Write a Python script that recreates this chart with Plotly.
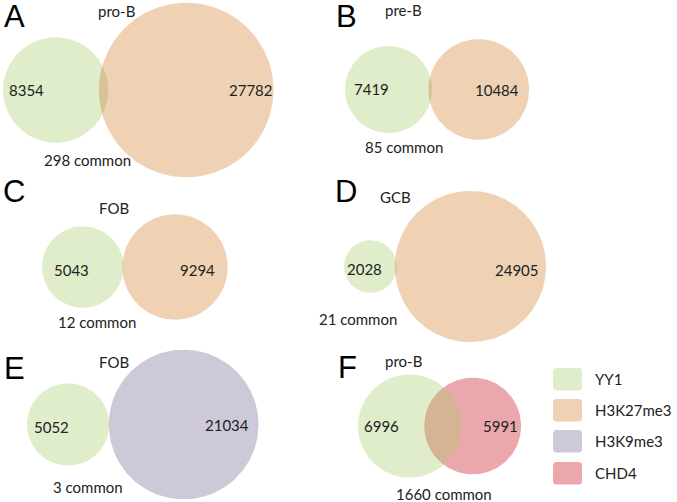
import math
import plotly.graph_objects as go

# ---------------- data ----------------
panels = ["A", "B", "C", "D", "E", "F"]
cell_types = ["pro-B", "pre-B", "FOB", "GCB", "FOB", "pro-B"]
yy1_counts = [8354, 7419, 5043, 2028, 5052, 6996]
partner_counts = [27782, 10484, 9294, 24905, 21034, 5991]
partner_marks = ["H3K27me3", "H3K27me3", "H3K27me3", "H3K27me3", "H3K9me3", "CHD4"]
common_counts = [298, 85, 12, 21, 3, 1660]
legend_labels = ["YY1", "H3K27me3", "H3K9me3", "CHD4"]

# ---------------- styles / layout ----------------
W, H = 677, 502
colors = {"YY1": "#e0edcb", "H3K27me3": "#efd2b4", "H3K9me3": "#cdc9d8", "CHD4": "#eaa8ac"}
lens_colors = ["#d6c496", "#d6c496", "#d6c496", "#d6c496", "#cfcdbb", "#d4b493"]
EXP = 0.42
panel_left = [3, 345, 42, 344, 27, 358]
panel_cy = [90, 89.5, 267, 266.5, 424.5, 426]
panel_rsum = [140, 94, 93.5, 102, 116, 100]
letter_pos = [(14.5, 16), (346, 16), (14, 191), (346, 191), (14, 368), (347, 367)]
title_pos = [(116, 11), (403, 10), (114, 208), (395, 197), (114, 362), (403, 361)]
num1_pos = [(26, 90), (371, 89), (71, 270), (364, 269), (51, 427), (381, 426)]
num2_pos = [(251, 90), (497, 90), (197, 270), (517, 270), (227, 425), (500, 426)]
common_pos = [(87, 160), (404, 147), (97, 322), (358, 319), (88, 487), (444, 494)]
legend_x0, legend_x1 = 553, 582
legend_y0 = [368, 399, 430, 462]
legend_h = 22.5
TXT = "#222222"
FONT = "Lato"


def circle_pts(cx, cy, r, n=240):
    xs = [cx + r * math.cos(2 * math.pi * i / n) for i in range(n + 1)]
    ys = [cy + r * math.sin(2 * math.pi * i / n) for i in range(n + 1)]
    return xs, ys


def lens_area(r1, r2, d):
    a = (d * d + r1 * r1 - r2 * r2) / (2 * d)
    h = math.sqrt(max(r1 * r1 - a * a, 0))
    b = d - a
    return (r1 * r1 * math.acos(max(-1, min(1, a / r1))) - a * h
            + r2 * r2 * math.acos(max(-1, min(1, b / r2))) - b * h)


def solve_distance(r1, r2, target):
    lo, hi = abs(r1 - r2) + 1e-6, r1 + r2 - 1e-9
    for _ in range(100):
        mid = (lo + hi) / 2
        if lens_area(r1, r2, mid) > target:
            lo = mid
        else:
            hi = mid
    return (lo + hi) / 2


def lens_pts(x1, x2, cy, r1, r2, n=80):
    d = x2 - x1
    a = (d * d + r1 * r1 - r2 * r2) / (2 * d)
    h = math.sqrt(max(r1 * r1 - a * a, 0))
    t1 = math.atan2(h, a)
    t2 = math.atan2(h, d - a)
    xs, ys = [], []
    for i in range(n + 1):
        t = -t1 + 2 * t1 * i / n
        xs.append(x1 + r1 * math.cos(t))
        ys.append(cy + r1 * math.sin(t))
    for i in range(n + 1):
        t = math.pi - t2 + 2 * t2 * i / n
        xs.append(x2 + r2 * math.cos(t))
        ys.append(cy + r2 * math.sin(t))
    xs.append(xs[0])
    ys.append(ys[0])
    return xs, ys


fig = go.Figure()
annotations = []


def ann(pos, text, size=15, family=FONT, color=TXT):
    annotations.append(dict(x=pos[0], y=pos[1], xref="x", yref="y", text=text,
                            showarrow=False, xanchor="center", yanchor="middle",
                            font=dict(family=family, size=size, color=color)))


for i in range(len(panels)):
    n1, n2, nc = yy1_counts[i], partner_counts[i], common_counts[i]
    s = panel_rsum[i] / (n1 ** EXP + n2 ** EXP)
    r1, r2 = s * n1 ** EXP, s * n2 ** EXP
    cx1 = panel_left[i] + r1
    cy = panel_cy[i]
    d = solve_distance(r1, r2, nc / n1 * math.pi * r1 * r1)
    cx2 = cx1 + d

    for (cx, r, name) in [(cx1, r1, "YY1"), (cx2, r2, partner_marks[i])]:
        xs, ys = circle_pts(cx, cy, r)
        fig.add_trace(go.Scatter(x=xs, y=ys, mode="lines", fill="toself",
                                 fillcolor=colors[name], line=dict(width=0),
                                 hoverinfo="skip", showlegend=False))
    xs, ys = lens_pts(cx1, cx2, cy, r1, r2)
    fig.add_trace(go.Scatter(x=xs, y=ys, mode="lines", fill="toself",
                             fillcolor=lens_colors[i], line=dict(width=0),
                             hoverinfo="skip", showlegend=False))

    ann(letter_pos[i], panels[i], size=31, family="Liberation Sans", color="#000000")
    ann(title_pos[i], cell_types[i])
    ann(num1_pos[i], str(n1))
    ann(num2_pos[i], str(n2))
    ann(common_pos[i], f"{nc} common")

# legend
shapes = []
rad = 3.5
for j, lab in enumerate(legend_labels):
    x0, x1 = legend_x0, legend_x1
    y0, y1 = legend_y0[j], legend_y0[j] + legend_h
    path = (f"M {x0+rad},{y0} L {x1-rad},{y0} Q {x1},{y0} {x1},{y0+rad} "
            f"L {x1},{y1-rad} Q {x1},{y1} {x1-rad},{y1} L {x0+rad},{y1} "
            f"Q {x0},{y1} {x0},{y1-rad} L {x0},{y0+rad} Q {x0},{y0} {x0+rad},{y0} Z")
    shapes.append(dict(type="path", path=path, xref="x", yref="y",
                       fillcolor=colors[lab], line=dict(width=0), layer="above"))
    annotations.append(dict(x=x1 + 11, y=(y0 + y1) / 2, xref="x", yref="y", text=lab,
                            showarrow=False, xanchor="left", yanchor="middle",
                            font=dict(family=FONT, size=15, color=TXT)))

fig.update_layout(
    width=W, height=H, margin=dict(l=0, r=0, t=0, b=0),
    paper_bgcolor="white", plot_bgcolor="white",
    xaxis=dict(range=[0, W], visible=False, fixedrange=True),
    yaxis=dict(range=[H, 0], visible=False, fixedrange=True),
    annotations=annotations, shapes=shapes, showlegend=False,
)

fig.write_html("out.html", config={"displayModeBar": False},
               post_script="document.body.style.margin='0';document.body.style.overflow='hidden';")
